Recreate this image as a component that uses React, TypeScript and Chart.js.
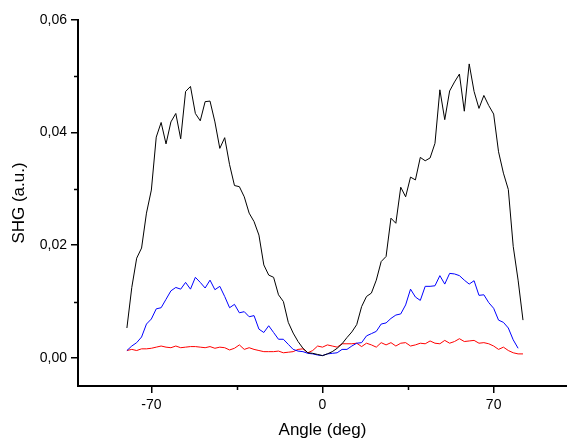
import React, { useEffect, useRef } from "react";
import { Chart, registerables } from "chart.js";

Chart.register(...registerables);

const angles = [
  -80, -78, -76, -74, -72, -70, -68, -66, -64, -62, -60, -58, -56, -54, -52, -50, -48, -46, -44, -42,
  -40, -38, -36, -34, -32, -30, -28, -26, -24, -22, -20, -18, -16, -14, -12, -10, -8, -6, -4, -2,
  0, 2, 4, 6, 8, 10, 12, 14, 16, 18, 20, 22, 24, 26, 28, 30, 32, 34, 36, 38,
  40, 42, 44, 46, 48, 50, 52, 54, 56, 58, 60, 62, 64, 66, 68, 70, 72, 74, 76, 78,
  80, 82,
];

const blackSeries = [
  0.0053, 0.0125, 0.0177, 0.0195, 0.0257, 0.0298, 0.0392, 0.0418, 0.0380, 0.0419,
  0.0434, 0.0389, 0.0473, 0.0482, 0.0434, 0.0421, 0.0455, 0.0456, 0.0419, 0.0372,
  0.0391, 0.0343, 0.0306, 0.0304, 0.0286, 0.0257, 0.0242, 0.0218, 0.0165, 0.0147,
  0.0143, 0.0112, 0.0100, 0.0063, 0.0044, 0.0029, 0.0017, 0.0009, 0.0008, 0.0006,
  0.0004, 0.0007, 0.0011, 0.0017, 0.0025, 0.0036, 0.0046, 0.0059, 0.0091, 0.0109,
  0.0115, 0.0138, 0.0171, 0.0180, 0.0248, 0.0239, 0.0303, 0.0286, 0.0321, 0.0316,
  0.0356, 0.0350, 0.0355, 0.0381, 0.0476, 0.0423, 0.0474, 0.0490, 0.0504, 0.0438,
  0.0522, 0.0473, 0.0443, 0.0466, 0.0448, 0.0433, 0.0366, 0.0328, 0.0299, 0.0198,
  0.0138, 0.0067,
];

const blueSeries: (number | null)[] = [
  0.0013, 0.0021, 0.0027, 0.0037, 0.0060, 0.0069, 0.0087, 0.0089, 0.0104, 0.0119,
  0.0125, 0.0122, 0.0134, 0.0122, 0.0143, 0.0134, 0.0124, 0.0138, 0.0121, 0.0127,
  0.0109, 0.0089, 0.0095, 0.0080, 0.0082, 0.0073, 0.0075, 0.0051, 0.0045, 0.0057,
  0.0045, 0.0033, 0.0033, 0.0024, 0.0015, 0.0012, 0.0011, 0.0008, 0.0007, 0.0005,
  0.0004, 0.0007, 0.0008, 0.0009, 0.0015, 0.0015, 0.0021, 0.0026, 0.0027, 0.0039,
  0.0043, 0.0047, 0.0060, 0.0062, 0.0070, 0.0076, 0.0078, 0.0094, 0.0122, 0.0108,
  0.0102, 0.0127, 0.0127, 0.0128, 0.0146, 0.0131, 0.0150, 0.0149, 0.0146, 0.0138,
  0.0131, 0.0137, 0.0111, 0.0112, 0.0098, 0.0088, 0.0067, 0.0063, 0.0053, 0.0032,
  0.0017, null,
];

const redSeries = [
  0.0013, 0.0015, 0.0013, 0.0016, 0.0016, 0.0017, 0.0019, 0.0021, 0.0019, 0.0018,
  0.0021, 0.0018, 0.0019, 0.0020, 0.0020, 0.0019, 0.0018, 0.0020, 0.0017, 0.0019,
  0.0018, 0.0014, 0.0017, 0.0023, 0.0015, 0.0018, 0.0015, 0.0013, 0.0011, 0.0011,
  0.0011, 0.0012, 0.0009, 0.0010, 0.0011, 0.0015, 0.0016, 0.0009, 0.0013, 0.0021,
  0.0019, 0.0023, 0.0021, 0.0019, 0.0025, 0.0025, 0.0025, 0.0026, 0.0020, 0.0026,
  0.0023, 0.0019, 0.0027, 0.0023, 0.0027, 0.0021, 0.0026, 0.0027, 0.0021, 0.0023,
  0.0026, 0.0025, 0.0030, 0.0026, 0.0025, 0.0031, 0.0026, 0.0029, 0.0034, 0.0029,
  0.0030, 0.0031, 0.0026, 0.0027, 0.0025, 0.0021, 0.0015, 0.0019, 0.0013, 0.0009,
  0.0007, 0.0007,
];

const xMajorTicks = [-70, 0, 70];
const xMinorTicks = [-35, 35];
const yMajorTicks = [0, 0.02, 0.04, 0.06];
const yMinorTicks = [0.01, 0.03, 0.05];

const FONT = "'Liberation Sans', Arial, sans-serif";

const minorTickPlugin = {
  id: "minorTicks",
  afterDraw(chart: any) {
    const ctx = chart.ctx;
    const xs = chart.scales.x;
    const ys = chart.scales.y;
    const area = chart.chartArea;
    ctx.save();
    ctx.strokeStyle = "#000";
    ctx.lineWidth = 1.5;
    ctx.beginPath();
    xMinorTicks.forEach((v) => {
      const px = Math.round(xs.getPixelForValue(v)) + 0.5;
      ctx.moveTo(px, area.bottom);
      ctx.lineTo(px, area.bottom + 4);
    });
    yMinorTicks.forEach((v) => {
      const py = Math.round(ys.getPixelForValue(v)) + 0.5;
      ctx.moveTo(area.left - 4, py);
      ctx.lineTo(area.left, py);
    });
    ctx.stroke();
    ctx.restore();
  },
};

export default function App() {
  const ref = useRef<HTMLCanvasElement | null>(null);

  useEffect(() => {
    if (!ref.current) return;
    const mk = (vals: (number | null)[]) =>
      angles.map((a, i) => ({ x: a, y: vals[i] }));
    const chart = new Chart(ref.current, {
      type: "line",
      data: {
        datasets: [
          { label: "black", data: mk(blackSeries), borderColor: "#000000", borderWidth: 1, pointRadius: 0, tension: 0, fill: false },
          { label: "blue", data: mk(blueSeries), borderColor: "#0000ff", borderWidth: 1, pointRadius: 0, tension: 0, fill: false },
          { label: "red", data: mk(redSeries), borderColor: "#ff0000", borderWidth: 1, pointRadius: 0, tension: 0, fill: false },
        ],
      },
      options: {
        animation: false,
        responsive: false,
        layout: { padding: { top: 20, right: 0, left: 0, bottom: 0 } },
        plugins: { legend: { display: false }, tooltip: { enabled: false } },
        scales: {
          x: {
            type: "linear",
            min: -100,
            max: 100,
            afterFit: (s: any) => { s.height = 57; },
            afterBuildTicks: (s: any) => { s.ticks = xMajorTicks.map((v) => ({ value: v })); },
            grid: { display: true, drawOnChartArea: false, drawTicks: true, tickLength: 7, color: "#000", lineWidth: 1.5 },
            border: { display: true, color: "#000", width: 2 },
            ticks: { color: "#000", padding: 4, font: { family: FONT, size: 14 }, maxRotation: 0, callback: (v: any) => String(v) },
            title: { display: true, text: "Angle (deg)", color: "#000", font: { family: FONT, size: 17 }, padding: { top: 0, bottom: 2 } },
          },
          y: {
            type: "linear",
            min: -0.005,
            max: 0.06,
            afterFit: (s: any) => { s.width = 78; },
            afterBuildTicks: (s: any) => { s.ticks = yMajorTicks.map((v) => ({ value: v })); },
            grid: { display: true, drawOnChartArea: false, drawTicks: true, tickLength: 7, color: "#000", lineWidth: 1.5 },
            border: { display: true, color: "#000", width: 2 },
            ticks: { color: "#000", padding: 4, font: { family: FONT, size: 14 }, callback: (v: any) => Number(v).toFixed(2).replace(".", ",") },
            title: { display: true, text: "SHG (a.u.)", color: "#000", font: { family: FONT, size: 17 }, padding: { top: 9, bottom: 0 } },
          },
        },
      },
      plugins: [minorTickPlugin],
    });
    return () => chart.destroy();
  }, []);

  return (
    <div style={{ position: "fixed", left: 0, top: 0, width: 567, height: 443, background: "#fff" }}>
      <canvas ref={ref} width={567} height={443} style={{ display: "block", width: 567, height: 443 }} />
    </div>
  );
}
